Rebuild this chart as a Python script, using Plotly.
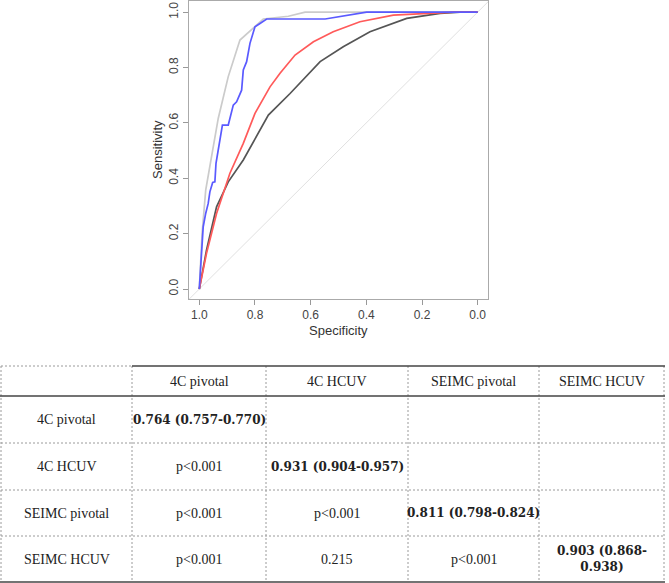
import plotly.graph_objects as go

# ---------------- data ----------------
gray_spec = [1.0, 0.990, 0.977, 0.955, 0.932, 0.896, 0.854, 0.770, 0.680, 0.620, 0.0]
gray_sens = [0.0, 0.200, 0.357, 0.480, 0.616, 0.767, 0.899, 0.975, 0.985, 1.0, 1.0]

blue_spec = [1.0, 0.992, 0.986, 0.977, 0.968, 0.962, 0.952, 0.944, 0.940, 0.932, 0.922, 0.917,
             0.896, 0.884, 0.878, 0.866, 0.848, 0.842, 0.830, 0.818, 0.800, 0.782, 0.758,
             0.548, 0.399, 0.0]
blue_sens = [0.0, 0.120, 0.225, 0.273, 0.309, 0.351, 0.385, 0.387, 0.454, 0.502, 0.562, 0.592,
             0.592, 0.634, 0.664, 0.676, 0.718, 0.791, 0.821, 0.887, 0.947, 0.959, 0.975,
             0.975, 1.0, 1.0]

red_spec = [1.0, 0.974, 0.938, 0.890, 0.842, 0.800, 0.746, 0.710, 0.656, 0.590, 0.519,
            0.423, 0.303, 0.159, 0.087, 0.0]
red_sens = [0.0, 0.129, 0.273, 0.418, 0.526, 0.634, 0.730, 0.779, 0.845, 0.893, 0.929,
            0.965, 0.989, 0.998, 1.0, 1.0]

dark_spec = [1.0, 0.974, 0.938, 0.896, 0.842, 0.752, 0.674, 0.566, 0.483, 0.387, 0.255,
             0.135, 0.063, 0.0]
dark_sens = [0.0, 0.141, 0.297, 0.387, 0.466, 0.628, 0.706, 0.821, 0.875, 0.929, 0.977,
             0.995, 1.0, 1.0]

diag_spec = [1.04, -0.04]
diag_sens = [-0.04, 1.04]

axis_ticks = [1.0, 0.8, 0.6, 0.4, 0.2, 0.0]
tick_labels = ["1.0", "0.8", "0.6", "0.4", "0.2", "0.0"]

col_headers = ["", "4C pivotal", "4C HCUV", "SEIMC pivotal", "SEIMC HCUV"]
row_labels = ["4C pivotal", "4C HCUV", "SEIMC pivotal", "SEIMC HCUV"]
cells = [
    ["<b>0.764 (0.757-0.770)</b>", "", "", ""],
    ["p<0.001", "<b>0.931 (0.904-0.957)</b>", "", ""],
    ["p<0.001", "p<0.001", "<b>0.811 (0.798-0.824)</b>", ""],
    ["p<0.001", "0.215", "p<0.001", "<b>0.903 (0.868-<br>0.938)</b>"],
]

# ---------------- layout helpers ----------------
W, H = 669, 583
def px(x):
    return x / W
def py(y):
    return 1 - y / H

fig = go.Figure()
fig.add_trace(go.Scatter(x=diag_spec, y=diag_sens, mode="lines",
                         line=dict(color="#e0e0e0", width=1), hoverinfo="skip", showlegend=False))
fig.add_trace(go.Scatter(x=gray_spec, y=gray_sens, mode="lines",
                         line=dict(color="#cbcbcb", width=1.7), showlegend=False))
fig.add_trace(go.Scatter(x=dark_spec, y=dark_sens, mode="lines",
                         line=dict(color="#555555", width=1.7), showlegend=False))
fig.add_trace(go.Scatter(x=red_spec, y=red_sens, mode="lines",
                         line=dict(color="#ff5a5a", width=1.7), showlegend=False))
fig.add_trace(go.Scatter(x=blue_spec, y=blue_sens, mode="lines",
                         line=dict(color="#5a5aff", width=1.7), showlegend=False))

axis_font = dict(family="Liberation Sans, Arial", size=12, color="#444444")
fig.update_xaxes(domain=[px(189), px(488)], range=[1.037, -0.037],
                 tickvals=axis_ticks, ticktext=tick_labels, ticks="outside", ticklen=5,
                 tickcolor="#999999", showline=True, linecolor="#aaaaaa", mirror=True,
                 showgrid=False, zeroline=False, tickfont=axis_font)
fig.update_yaxes(domain=[py(299), py(1)], range=[-0.036, 1.04],
                 tickvals=axis_ticks, ticktext=tick_labels, ticks="outside", ticklen=5,
                 tickcolor="#999999", showline=True, linecolor="#aaaaaa", mirror=True,
                 showgrid=False, zeroline=False, tickfont=axis_font, tickangle=-90)

annotations = [
    dict(text="Specificity", x=px(338), y=py(330), xref="paper", yref="paper",
         xanchor="center", yanchor="middle", showarrow=False,
         font=dict(family="Liberation Sans, Arial", size=13, color="#333333")),
    dict(text="Sensitivity", x=px(157), y=py(150), xref="paper", yref="paper",
         xanchor="center", yanchor="middle", showarrow=False, textangle=-90,
         font=dict(family="Liberation Sans, Arial", size=13, color="#333333")),
]

# ---------------- table ----------------
col_edges = [1, 132, 266, 408, 539, 664]
row_edges = [366, 396, 443, 490, 536, 582]
shapes = []
dash_line = dict(color="#9a9a9a", width=1, dash="2px,2px")
solid_line = dict(color="#444444", width=1.6)

for xe in col_edges:
    shapes.append(dict(type="line", xref="paper", yref="paper", x0=px(xe), x1=px(xe),
                       y0=py(row_edges[0]), y1=py(row_edges[-1]), line=dash_line))
shapes.append(dict(type="line", xref="paper", yref="paper", x0=px(1), x1=px(132),
                   y0=py(366), y1=py(366), line=dash_line))
shapes.append(dict(type="line", xref="paper", yref="paper", x0=px(132), x1=px(665),
                   y0=py(366), y1=py(366), line=solid_line))
shapes.append(dict(type="line", xref="paper", yref="paper", x0=px(0), x1=px(665),
                   y0=py(396), y1=py(396), line=solid_line))
for ye in row_edges[2:-1]:
    shapes.append(dict(type="line", xref="paper", yref="paper", x0=px(1), x1=px(664),
                       y0=py(ye), y1=py(ye), line=dash_line))
shapes.append(dict(type="line", xref="paper", yref="paper", x0=px(0), x1=px(665),
                   y0=py(582), y1=py(582), line=solid_line))

reg_font = dict(family="Liberation Serif, Times New Roman, serif", size=14, color="#222222")
bold_font = dict(family="DejaVu Serif, serif", size=12, color="#222222")

col_centers = [(col_edges[i] + col_edges[i + 1]) / 2 for i in range(5)]
row_centers = [(row_edges[i] + row_edges[i + 1]) / 2 for i in range(5)]

for j, h in enumerate(col_headers):
    if h:
        annotations.append(dict(text=h, x=px(col_centers[j]), y=py(row_centers[0]),
                                xref="paper", yref="paper", xanchor="center",
                                yanchor="middle", showarrow=False, font=reg_font))
for i, rl in enumerate(row_labels):
    yc = py(row_centers[i + 1])
    annotations.append(dict(text=rl, x=px(col_centers[0]), y=yc, xref="paper", yref="paper",
                            xanchor="center", yanchor="middle", showarrow=False, font=reg_font))
    for j, val in enumerate(cells[i]):
        if not val:
            continue
        f = bold_font if val.startswith("<b>") else reg_font
        annotations.append(dict(text=val, x=px(col_centers[j + 1]), y=yc, xref="paper",
                                yref="paper", xanchor="center", yanchor="middle",
                                showarrow=False, font=f))

fig.update_layout(width=W, height=H, margin=dict(l=0, r=0, t=0, b=0),
                  paper_bgcolor="white", plot_bgcolor="white",
                  shapes=shapes, annotations=annotations, showlegend=False)

fig.write_html("out.html", config={"displayModeBar": False},
               post_script="document.body.style.margin='0';")
